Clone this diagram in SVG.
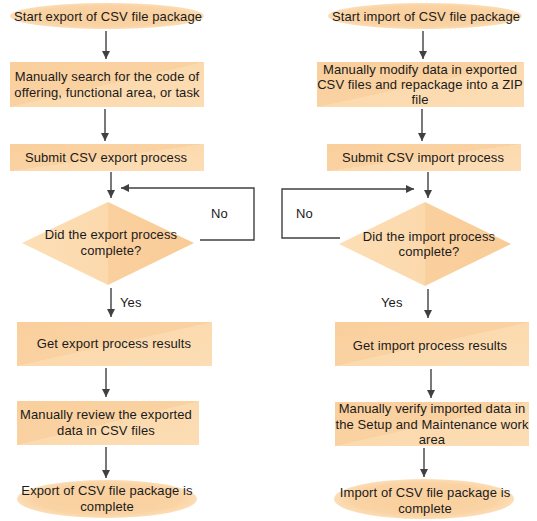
<svg xmlns="http://www.w3.org/2000/svg" width="537" height="521" viewBox="0 0 537 521">
<style>
  text { font-family: "Liberation Sans", Arial, sans-serif; font-size: 13px; letter-spacing: 0.1px; fill: #1a1a1a; text-anchor: middle; }
  .lbl { text-anchor: start; }
  .box { fill: url(#boxg); }
  .dia { fill: url(#diag); }
  .term { fill: url(#termg); }
  .conn { fill: none; stroke: #404040; stroke-width: 1.4; }
</style>
<defs>
  <linearGradient id="boxg" x1="0" y1="0" x2="1" y2="1">
    <stop offset="0" stop-color="#F9CF9C"/>
    <stop offset="0.5" stop-color="#FAD2A2"/>
    <stop offset="0.5" stop-color="#FCDAAF"/>
    <stop offset="1" stop-color="#FCDDB4"/>
  </linearGradient>
  <linearGradient id="diag" x1="0" y1="0" x2="1" y2="0">
    <stop offset="0" stop-color="#FDDEB6"/>
    <stop offset="0.5" stop-color="#FCD9AD"/>
    <stop offset="0.5" stop-color="#FAD09E"/>
    <stop offset="1" stop-color="#F9CC97"/>
  </linearGradient>
  <radialGradient id="termg" cx="0.5" cy="0.5" r="0.5">
    <stop offset="0" stop-color="#F9CF9C"/>
    <stop offset="0.8" stop-color="#FAD3A4"/>
    <stop offset="1" stop-color="#FCDDB6"/>
  </radialGradient>
  <marker id="ah" viewBox="0 0 10 10" refX="10" refY="5" markerWidth="9" markerHeight="8" markerUnits="userSpaceOnUse" orient="auto">
    <path d="M0,0 L10,5 L0,10 z" fill="#404040"/>
  </marker>
</defs>

<g id="connectors">
  <line class="conn" x1="106" y1="31" x2="106" y2="59" marker-end="url(#ah)"/>
  <line class="conn" x1="105" y1="109" x2="105" y2="141" marker-end="url(#ah)"/>
  <line class="conn" x1="111" y1="172" x2="111" y2="198" marker-end="url(#ah)"/>
  <polyline class="conn" points="200,240 254,240 254,188 121,188" marker-end="url(#ah)"/>
  <line class="conn" x1="111" y1="288" x2="111" y2="317" marker-end="url(#ah)"/>
  <line class="conn" x1="106" y1="368" x2="106" y2="397" marker-end="url(#ah)"/>
  <line class="conn" x1="106" y1="447" x2="106" y2="478" marker-end="url(#ah)"/>

  <line class="conn" x1="423" y1="31" x2="423" y2="59" marker-end="url(#ah)"/>
  <line class="conn" x1="422" y1="109" x2="422" y2="141" marker-end="url(#ah)"/>
  <line class="conn" x1="428" y1="172" x2="428" y2="198" marker-end="url(#ah)"/>
  <polyline class="conn" points="340,238 282,238 282,189 414,189" marker-end="url(#ah)"/>
  <line class="conn" x1="428" y1="289" x2="428" y2="318" marker-end="url(#ah)"/>
  <line class="conn" x1="431" y1="369" x2="431" y2="398" marker-end="url(#ah)"/>
  <line class="conn" x1="424" y1="448" x2="424" y2="477" marker-end="url(#ah)"/>

  <text class="lbl" x="211" y="218">No</text>
  <text class="lbl" x="120" y="307">Yes</text>
  <text class="lbl" x="296" y="218">No</text>
  <text class="lbl" x="381" y="307">Yes</text>
</g>

<g id="start-export">
  <ellipse class="term" cx="107" cy="16" rx="97" ry="13"/>
  <text x="108" y="21">Start export of CSV file package</text>
</g>
<g id="search-code">
  <rect class="box" x="10" y="62" width="194" height="45"/>
  <text x="107" y="81">Manually search for the code of</text>
  <text x="107" y="97">offering, functional area, or task</text>
</g>
<g id="submit-export">
  <rect class="box" x="10" y="144" width="194" height="27"/>
  <text x="106" y="162">Submit CSV export process</text>
</g>
<g id="export-decision">
  <polygon class="dia" points="22,243 108,202 194,243 108,285"/>
  <text x="111" y="239">Did the export process</text>
  <text x="111" y="255">complete?</text>
</g>
<g id="export-results">
  <rect class="box" x="17" y="322" width="195" height="44"/>
  <text x="114" y="348">Get export process results</text>
</g>
<g id="review-export">
  <rect class="box" x="17" y="401" width="182" height="44"/>
  <text x="106" y="419">Manually review the exported</text>
  <text x="106" y="435">data in CSV files</text>
</g>
<g id="export-complete">
  <ellipse class="term" cx="107" cy="499" rx="90" ry="19"/>
  <text x="107" y="495">Export of CSV file package is</text>
  <text x="107" y="511">complete</text>
</g>

<g id="start-import">
  <ellipse class="term" cx="425" cy="16" rx="97" ry="13"/>
  <text x="426" y="21">Start import of CSV file package</text>
</g>
<g id="modify-data">
  <rect class="box" x="317" y="62" width="207" height="45"/>
  <text x="420" y="74">Manually modify data in exported</text>
  <text x="420" y="89">CSV files and repackage into a ZIP</text>
  <text x="420" y="104">file</text>
</g>
<g id="submit-import">
  <rect class="box" x="327" y="144" width="194" height="27"/>
  <text x="423" y="162">Submit CSV import process</text>
</g>
<g id="import-decision">
  <polygon class="dia" points="339,244 425,202 511,244 425,286"/>
  <text x="429" y="241">Did the import process</text>
  <text x="429" y="256">complete?</text>
</g>
<g id="import-results">
  <rect class="box" x="335" y="322" width="194" height="44"/>
  <text x="430" y="350">Get import process results</text>
</g>
<g id="verify-import">
  <rect class="box" x="335" y="402" width="194" height="44"/>
  <text x="432" y="413">Manually verify imported data in</text>
  <text x="432" y="429">the Setup and Maintenance work</text>
  <text x="432" y="444">area</text>
</g>
<g id="import-complete">
  <ellipse class="term" cx="424" cy="499" rx="90" ry="20"/>
  <text x="425" y="497">Import of CSV file package is</text>
  <text x="425" y="513">complete</text>
</g>
</svg>
